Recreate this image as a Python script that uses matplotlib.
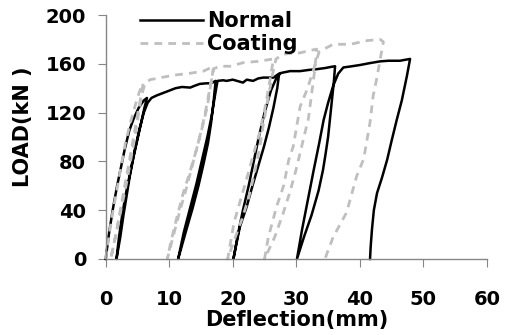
import matplotlib
matplotlib.use("Agg")
import matplotlib.pyplot as plt

# Normal specimen: load / unload cycles (mm, kN)
normal_x = [0, 0.5, 1.1, 1.8, 2.4, 3.0, 3.7, 4.4, 5.2, 6.0, 6.5,
            6.1, 5.6, 5.0, 4.4, 3.8, 3.3, 2.8, 2.3, 1.7,
            2.1, 2.6, 3.2, 3.9, 4.6, 5.3, 6.0, 6.6, 7.2,
            8.0, 9.0, 10.0, 11.0, 12.0, 13.3, 14.0, 14.8, 15.8, 16.6, 17.3,
            17.0, 16.6, 16.1, 15.4, 14.6, 13.7, 12.7, 11.4,
            12.3, 13.3, 14.3, 15.2, 16.0, 16.7, 17.2, 17.6,
            18.5, 19.0, 20.0, 21.0, 21.6, 22.2, 23.2, 24.0, 24.8, 26.4, 27.3,
            27.0, 26.4, 25.7, 24.9, 24.0, 23.1, 22.2, 21.1, 20.1,
            20.8, 21.6, 22.5, 23.3, 24.1, 25.0, 26.0, 27.0, 27.6,
            29.0, 30.6, 32.0, 33.2, 34.5, 35.5, 36.1,
            35.9, 35.6, 35.3, 35.0, 34.6, 34.2, 33.5, 32.4, 31.2, 30.1,
            30.9, 31.8, 32.7, 33.6, 34.3, 35.0, 35.8, 36.6, 37.4,
            38.5, 40.0, 41.5, 43.2, 44.5, 46.3, 47.9,
            47.4, 46.6, 45.8, 45.0, 44.3, 43.5, 42.7, 42.2, 41.9, 41.7, 41.6]
normal_y = [0, 20, 40, 60, 75, 90, 105, 115, 124, 130, 132,
            124, 112, 98, 84, 68, 52, 36, 18, 0,
            18, 36, 54, 72, 90, 106, 120, 128, 132,
            134, 136, 138, 140, 141, 140.5, 142, 143.5, 144, 144, 146,
            130, 112, 95, 78, 60, 42, 24, 0,
            22, 42, 62, 82, 100, 118, 134, 146,
            146.5, 146, 147, 145.5, 144.6, 147, 146, 148, 148.7, 148.7, 152,
            140, 124, 108, 92, 76, 60, 43, 26, 0,
            20, 40, 60, 80, 100, 120, 138, 150, 152.5,
            154, 154, 155, 155.6, 156.5, 157.5, 158,
            145, 130, 115, 100, 86, 73, 56, 36, 18, 0,
            24, 48, 72, 95, 114, 128, 142, 152, 157,
            157.8, 159, 160.5, 162, 162.5, 162.5, 164,
            150, 130, 114, 97, 81.5, 67, 54, 40, 24, 10, 0]

# Coating specimen
coating_x = [0, 0.4, 1.0, 1.7, 2.4, 3.1, 3.8, 4.6, 5.3, 5.9,
             5.5, 5.0, 4.4, 3.7, 3.0, 2.3, 1.6, 0.8,
             1.6, 2.4, 3.2, 3.9, 4.6, 5.2, 5.7, 6.2, 7.0,
             8.0, 9.5, 11.2, 13.0, 15.4, 16.2, 17.0,
             16.6, 16.0, 15.2, 14.3, 13.3, 12.2, 11.2, 10.3, 9.7,
             10.6, 11.6, 12.7, 13.7, 14.7, 15.6, 16.4, 17.0,
             18.0, 19.6, 21.7, 24.0, 26.4,
             25.8, 25.0, 24.2, 23.2, 22.2, 21.2, 20.2, 19.2,
             20.2, 21.4, 22.5, 23.4, 24.2, 24.8, 25.5, 26.2, 26.8, 28.0,
             30.6, 32.2, 33.2,
             32.9, 32.4, 31.9, 31.2, 30.6, 29.9, 29.0, 27.9, 26.6, 25.0,
             25.6, 26.9, 28.0, 28.8, 29.5, 30.6, 31.7, 32.7, 33.6,
             35.8, 38.5, 41.1, 43.2, 43.7,
             43.2, 42.7, 42.1, 41.6, 40.6, 39.5, 37.9, 35.8, 34.5]
coating_y = [0, 15, 35, 55, 75, 95, 110, 125, 137, 144,
             132, 118, 100, 80, 60, 40, 20, 0,
             20, 40, 60, 80, 100, 120, 135, 144, 147,
             148, 149.5, 151, 152, 154, 156, 158,
             145, 125, 108, 90, 72, 54, 34, 15, 0,
             18, 38, 58, 78, 98, 118, 140, 156,
             158, 158, 161, 162, 164,
             145, 122, 103, 85, 66, 48, 30, 0,
             15, 32, 50, 70, 90, 110, 130, 150, 164, 168,
             169, 171, 172,
             155, 135, 115, 100, 87, 72, 55, 37, 18, 0,
             18, 43, 60, 81, 92, 125, 139, 155, 170,
             176, 176, 179, 180, 178,
             164, 149, 134, 112, 82, 68, 38, 18, 0]

x_ticks = [0, 10, 20, 30, 40, 50, 60]
y_ticks = [0, 40, 80, 120, 160, 200]

plt.rcParams['font.family'] = ['DejaVu Sans']
plt.rcParams['font.weight'] = 'bold'

fig = plt.figure(figsize=(5.12, 3.35), dpi=100)
ax = fig.add_axes([0.2064, 0.2269, 0.7447, 0.7283])

ax.plot(normal_x, normal_y, color='black', lw=1.8, label='Normal', clip_on=False)
ax.plot(coating_x, coating_y, color='#bfbfbf', lw=2, dashes=(2.8, 2.2),
        label='Coating', clip_on=False)

ax.set_xlim(0, 60)
ax.set_ylim(0, 200)
ax.set_xticks(x_ticks)
ax.set_yticks(y_ticks)

grey = '#868686'
for side in ['top', 'right']:
    ax.spines[side].set_visible(False)
for side in ['left', 'bottom']:
    ax.spines[side].set_color(grey)
    ax.spines[side].set_linewidth(1)
ax.tick_params(axis='x', direction='out', length=5.5, color=grey, pad=16.5, labelsize=14)
ax.tick_params(axis='y', direction='out', length=5.5, color=grey, pad=8.5, labelsize=14)
for lab in ax.get_xticklabels() + ax.get_yticklabels():
    lab.set_fontweight('bold')

ax.set_xlabel('Deflection(mm)', fontsize=15, fontweight='bold', labelpad=1)
ax.set_ylabel('LOAD(kN )', fontsize=15, fontweight='bold')
ax.yaxis.set_label_coords(-0.19, 0.54)

ax.legend(loc='upper left', bbox_to_anchor=(0.064, 1.058), frameon=False,
          borderpad=0, handlelength=3.0, handletextpad=0.2, labelspacing=0.15,
          prop={'size': 15, 'weight': 'bold'})

fig.savefig('out.png', dpi=100)
plt.close(fig)
